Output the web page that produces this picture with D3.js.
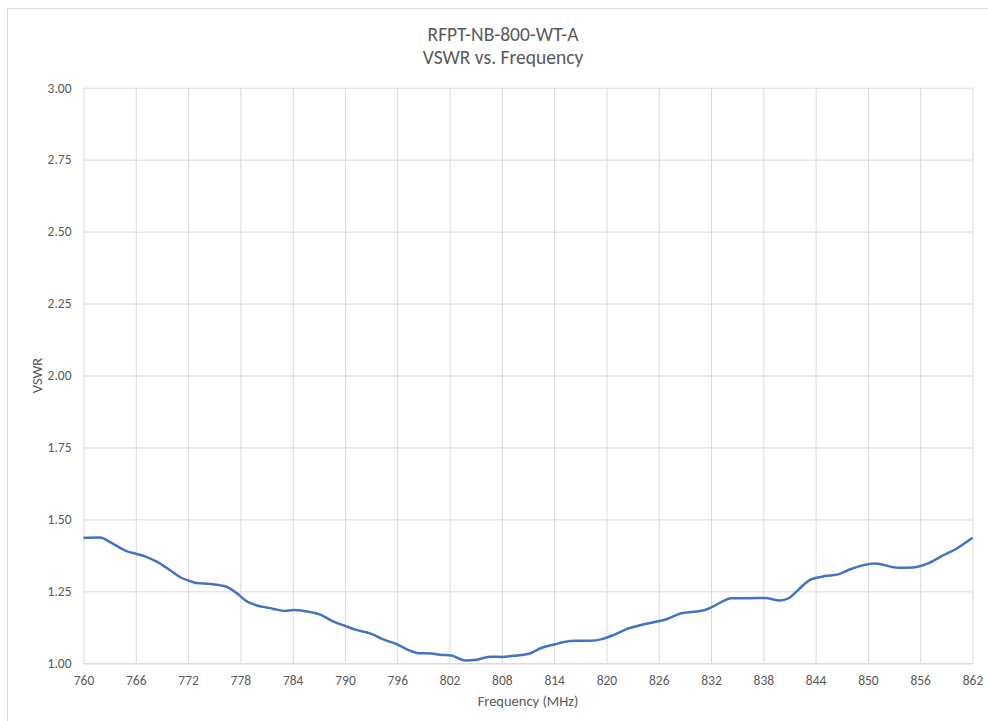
<!DOCTYPE html>
<html>
<head>
<meta charset="utf-8">
<script src="https://cdn.jsdelivr.net/npm/d3@7"></script>
<style>
  body { margin: 0; background: #fff; }
  text { font-family: Carlito, "Open Sans", sans-serif; fill: #595959; }
</style>
</head>
<body>
<div class="chart-container"></div>
<script>
// readings off the VSWR sweep
const freqMHz = [760, 761.9, 763.0, 765.1, 766.1, 767.2, 768.4, 769.9, 771.1, 772.1, 773.0, 774.5, 776.4, 777.6,
  778.7, 779.9, 781.0, 781.8, 783.1, 784.1, 785.6, 787.1, 788.7, 790.0, 791.3, 792.9, 794.4, 795.9, 797.3,
  798.4, 799.9, 800.9, 802.2, 802.8, 803.8, 805.1, 806.6, 808.0, 809.3, 811.0, 812.6, 814.1, 815.0, 816.6,
  818.1, 819.6, 820.8, 822.5, 824.0, 825.0, 826.9, 828.6, 830.0, 831.3, 832.2, 834.4, 836.5, 838.2, 839.9,
  840.9, 841.8, 842.6, 843.3, 845.1, 846.6, 847.9, 850.8, 853.5, 855.2, 856.9, 858.5, 860.2, 862.0]
const vswr = [1.436, 1.437, 1.422, 1.388, 1.380, 1.370, 1.353, 1.324, 1.299, 1.287, 1.279, 1.276, 1.266, 1.243,
  1.216, 1.201, 1.194, 1.189, 1.182, 1.185, 1.180, 1.170, 1.145, 1.130, 1.116, 1.104, 1.083, 1.067, 1.046,
  1.035, 1.034, 1.030, 1.027, 1.020, 1.010, 1.012, 1.023, 1.022, 1.026, 1.032, 1.054, 1.066, 1.073, 1.078,
  1.078, 1.085, 1.098, 1.121, 1.133, 1.140, 1.153, 1.174, 1.179, 1.185, 1.197, 1.226, 1.226, 1.227, 1.218,
  1.226, 1.249, 1.272, 1.289, 1.303, 1.309, 1.326, 1.347, 1.332, 1.333, 1.347, 1.373, 1.399, 1.436]
const xTicks = d3.range(760, 863, 6)
const yTicks = [1.00, 1.25, 1.50, 1.75, 2.00, 2.25, 2.50, 2.75, 3.00]
const titleLines = ["RFPT-NB-800-WT-A", "VSWR vs. Frequency"]

const width = 988
const height = 721
const margin = {left: 83.5, top: 87.7, right: 15.5, bottom: 57.7}
const chartWidth = width - margin.left - margin.right
const chartHeight = height - margin.top - margin.bottom

const data = freqMHz.map((f, i) => ({f: f, v: vswr[i]}))

const root = d3.select('.chart-container')
  .append('svg')
    .attr('width', width)
    .attr('height', height)

// outer chart frame
root.append('rect')
  .attr('x', 7.5).attr('y', 8.5)
  .attr('width', width).attr('height', height)
  .attr('fill', 'none')
  .attr('stroke', '#d9d9d9')

root.selectAll('.title')
  .data(titleLines)
  .enter().append('text')
    .attr('class', 'title')
    .attr('x', 503)
    .attr('y', (d, i) => 41 + i * 23)
    .attr('text-anchor', 'middle')
    .style('font-size', '19.5px')
    .text(d => d)

const svg = root.append('g')
  .attr('transform', `translate(${margin.left}, ${margin.top})`)

const xScale = d3.scaleLinear().domain([760, 862]).range([0, chartWidth])
const yScale = d3.scaleLinear().domain([1, 3]).range([chartHeight, 0])

// grid
svg.append('g')
  .call(d3.axisLeft(yScale).tickValues(yTicks).tickSize(-chartWidth).tickFormat(''))
  .call(g => g.select('.domain').remove())
  .selectAll('line').attr('stroke', '#d9d9d9')
svg.append('g')
  .attr('transform', `translate(0, ${chartHeight})`)
  .call(d3.axisBottom(xScale).tickValues(xTicks).tickSize(-chartHeight).tickFormat(''))
  .call(g => g.select('.domain').remove())
  .selectAll('line').attr('stroke', '#d9d9d9')

// axes labels
const yAxis = svg.append('g')
  .call(d3.axisLeft(yScale).tickValues(yTicks).tickSize(0).tickPadding(12).tickFormat(d3.format('.2f')))
yAxis.select('.domain').remove()
yAxis.selectAll('text').style('font-size', '13.5px').style('font-family', null).attr('fill', '#595959')

const xAxis = svg.append('g')
  .attr('transform', `translate(0, ${chartHeight})`)
  .call(d3.axisBottom(xScale).tickValues(xTicks).tickSize(0).tickPadding(12))
xAxis.select('.domain').attr('stroke', '#d9d9d9')
xAxis.selectAll('text').style('font-size', '13.5px').style('font-family', null).attr('fill', '#595959')

svg.append('text')
  .attr('x', chartWidth / 2)
  .attr('y', chartHeight + 43)
  .attr('text-anchor', 'middle')
  .style('font-size', '14.5px')
  .text('Frequency (MHz)')

svg.append('text')
  .attr('transform', `translate(-42, ${yScale(2)}) rotate(-90)`)
  .attr('text-anchor', 'middle')
  .style('font-size', '14.5px')
  .text('VSWR')

const line = d3.line()
  .x(d => xScale(d.f))
  .y(d => yScale(d.v))
  .curve(d3.curveMonotoneX)

svg.append('path')
  .datum(data)
  .attr('fill', 'none')
  .attr('stroke', '#4472c4')
  .attr('stroke-width', 2.5)
  .attr('stroke-linejoin', 'round')
  .attr('d', line)
</script>
</body>
</html>
